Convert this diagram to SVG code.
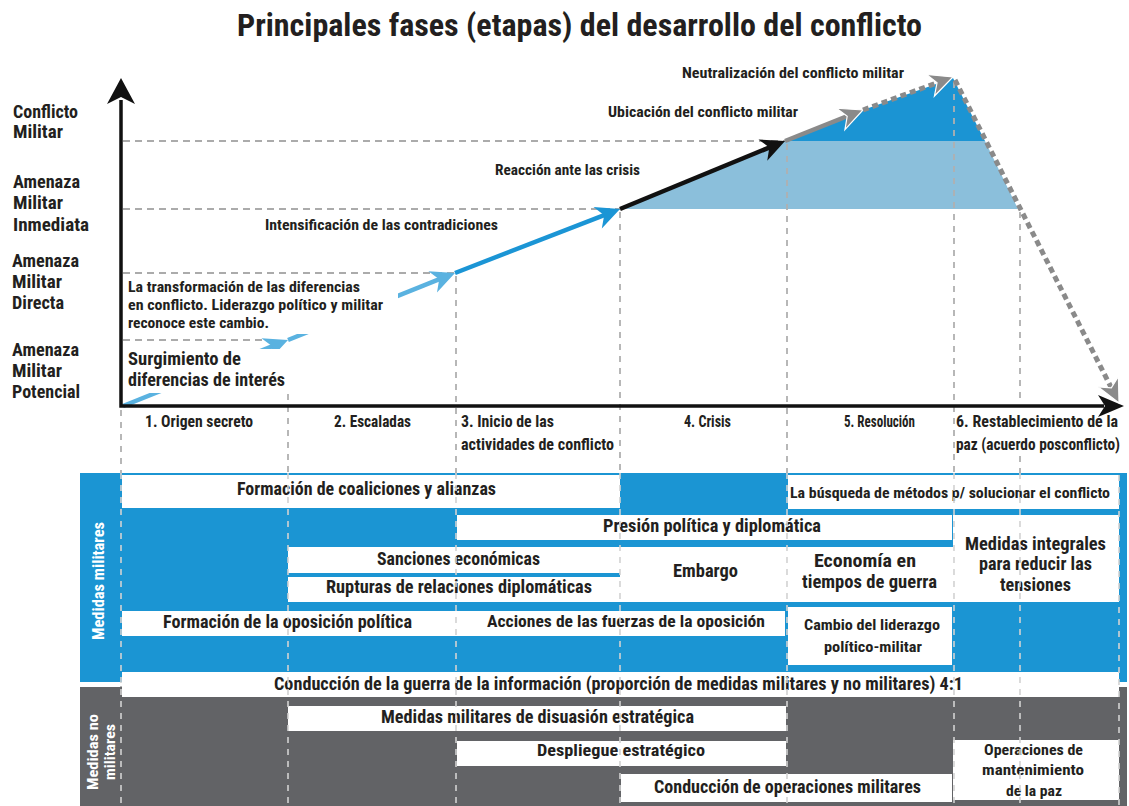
<svg xmlns="http://www.w3.org/2000/svg" width="1129" height="806" viewBox="0 0 1129 806">
<style>
.t{font-family:"Liberation Sans Narrow","Roboto Condensed","Roboto","Liberation Sans",sans-serif;font-weight:700;fill:#231f20}
.c{text-anchor:middle}
.e{text-anchor:end}
.dash{stroke:#ababab;stroke-width:1.8;stroke-dasharray:7 5;fill:none}
.vdash{stroke:#b0b0b0;stroke-width:1.8;stroke-dasharray:6 6;fill:none}
.tdash{stroke:#d2d2d2;stroke-width:1.6;stroke-dasharray:6 6;fill:none}
.box{fill:#ffffff}
.lb{stroke:#5ab2e0;stroke-width:4.5;fill:none}
.bl{stroke:#1b95d5;stroke-width:4.5;fill:none}
.bk{stroke:#111111;stroke-width:4.5;fill:none}
.gr{stroke:#8a8a8a;stroke-width:4.5;fill:none}
.gd{stroke:#8a8a8a;stroke-width:5;stroke-dasharray:6 4;fill:none}
</style>
<defs>
<marker id="ahLB" viewBox="-16 -13 28 26" refX="0" refY="0" markerWidth="28" markerHeight="26" markerUnits="userSpaceOnUse" orient="auto" overflow="visible"><path d="M10,0 L-14,-11.5 L-7,0 L-14,11.5 Z" fill="#5ab2e0"/></marker>
<marker id="ahB" viewBox="-16 -13 28 26" refX="0" refY="0" markerWidth="28" markerHeight="26" markerUnits="userSpaceOnUse" orient="auto" overflow="visible"><path d="M10,0 L-14,-11.5 L-7,0 L-14,11.5 Z" fill="#1b95d5"/></marker>
<marker id="ahK" viewBox="-16 -13 28 26" refX="0" refY="0" markerWidth="28" markerHeight="26" markerUnits="userSpaceOnUse" orient="auto" overflow="visible"><path d="M10,0 L-14,-11.5 L-7,0 L-14,11.5 Z" fill="#111111"/></marker>
<marker id="ahG" viewBox="-16 -13 28 26" refX="0" refY="0" markerWidth="28" markerHeight="26" markerUnits="userSpaceOnUse" orient="auto" overflow="visible"><path d="M10,0 L-14,-11.5 L-7,0 L-14,11.5 Z" fill="#8a8a8a" stroke="#ffffff" stroke-width="1.2"/></marker>
</defs>
<rect width="1129" height="806" fill="#ffffff"/>

<text id="title" class="t c" x="579.5" y="36" font-size="32" textLength="685" lengthAdjust="spacingAndGlyphs">Principales fases (etapas) del desarrollo del conflicto</text>

<g id="levels" class="t" font-size="17.5">
<text x="13" y="118" textLength="65" lengthAdjust="spacingAndGlyphs">Conflicto</text>
<text x="13" y="138" textLength="50" lengthAdjust="spacingAndGlyphs">Militar</text>
<text x="13" y="188" textLength="67" lengthAdjust="spacingAndGlyphs">Amenaza</text>
<text x="13" y="209" textLength="50" lengthAdjust="spacingAndGlyphs">Militar</text>
<text x="13" y="231" textLength="76" lengthAdjust="spacingAndGlyphs">Inmediata</text>
<text x="12" y="267" textLength="67" lengthAdjust="spacingAndGlyphs">Amenaza</text>
<text x="12" y="288" textLength="50" lengthAdjust="spacingAndGlyphs">Militar</text>
<text x="12" y="309" textLength="52" lengthAdjust="spacingAndGlyphs">Directa</text>
<text x="12" y="356" textLength="67" lengthAdjust="spacingAndGlyphs">Amenaza</text>
<text x="12" y="377" textLength="50" lengthAdjust="spacingAndGlyphs">Militar</text>
<text x="12" y="398" textLength="68" lengthAdjust="spacingAndGlyphs">Potencial</text>
</g>

<g id="chart-fills">
<polygon points="620,209 785,141 985,141 1018,209" fill="#8bbfdb"/>
<polygon points="785,141 863,110 953,78 985,141" fill="#1b94d3"/>
</g>

<g id="guides">
<line class="dash" x1="123" y1="141" x2="785" y2="141"/>
<line class="dash" x1="123" y1="209" x2="620" y2="209"/>
<line class="dash" x1="123" y1="273" x2="455" y2="273"/>
<line class="dash" x1="123" y1="340" x2="265" y2="340"/>
</g>

<g id="connectors">
<line class="lb" x1="123" y1="406" x2="278.7" y2="343.7" marker-end="url(#ahLB)"/>
<line class="lb" x1="288" y1="340" x2="445.7" y2="276.7" marker-end="url(#ahLB)"/>
<line class="bl" x1="455" y1="273" x2="610.7" y2="212.6" marker-end="url(#ahB)"/>
<line class="bk" x1="620" y1="209" x2="775.8" y2="144.8" marker-end="url(#ahK)"/>
<line class="gr" x1="785" y1="141" x2="853.7" y2="113.7" marker-end="url(#ahG)"/>
<line class="gd" x1="863" y1="110" x2="943.6" y2="80.4" marker-end="url(#ahG)"/>
</g>

<g id="text-backs">
<rect class="box" x="124" y="276" width="274" height="58"/>
<rect class="box" x="124" y="349" width="176" height="44"/>
</g>

<g id="chart-labels" class="t">
<text x="128" y="292" font-size="14.5" textLength="232" lengthAdjust="spacingAndGlyphs">La transformación de las diferencias</text>
<text x="128" y="310" font-size="14.5" textLength="255" lengthAdjust="spacingAndGlyphs">en conflicto. Liderazgo político y militar</text>
<text x="128" y="328" font-size="14.5" textLength="141" lengthAdjust="spacingAndGlyphs">reconoce este cambio.</text>
<text x="128" y="365" font-size="18" textLength="113" lengthAdjust="spacingAndGlyphs">Surgimiento de</text>
<text x="128" y="386" font-size="18" textLength="157" lengthAdjust="spacingAndGlyphs">diferencias de interés</text>
<text x="265" y="230" font-size="15" textLength="233" lengthAdjust="spacingAndGlyphs">Intensificación de las contradiciones</text>
<text x="495" y="175" font-size="15" textLength="145" lengthAdjust="spacingAndGlyphs">Reacción ante las crisis</text>
<text x="608" y="117" font-size="15" textLength="190" lengthAdjust="spacingAndGlyphs">Ubicación del conflicto militar</text>
<text x="682" y="78" font-size="15" textLength="222" lengthAdjust="spacingAndGlyphs">Neutralización del conflicto militar</text>
</g>

<g id="phase-guides">
<line class="vdash" x1="121" y1="410" x2="121" y2="806"/>
<line class="vdash" x1="288" y1="394" x2="288" y2="806"/>
<line class="vdash" x1="456" y1="276" x2="456" y2="806"/>
<line class="vdash" x1="620" y1="212" x2="620" y2="806"/>
<line class="vdash" x1="787" y1="144" x2="787" y2="806"/>
<line class="vdash" x1="954" y1="82" x2="954" y2="806"/>
<line class="vdash" x1="1020" y1="212" x2="1020" y2="404"/>
<line class="vdash" x1="1020" y1="456" x2="1020" y2="806"/>
</g>

<g id="table">
<rect x="80" y="473" width="1047" height="209" fill="#1b95d3"/>
<rect x="80" y="687" width="1047" height="119" fill="#626366"/>
<g id="n-coaliciones"><rect class="box" x="122" y="475" width="498" height="33"/><text class="t c" x="366.5" y="495" font-size="18" textLength="259" lengthAdjust="spacingAndGlyphs">Formación de coaliciones y alianzas</text></g>
<g id="n-busqueda"><rect class="box" x="788" y="475" width="331" height="34"/><text class="t c" x="950" y="498" font-size="15" textLength="320" lengthAdjust="spacingAndGlyphs">La búsqueda de métodos p/ solucionar el conflicto</text></g>
<g id="n-presion"><rect class="box" x="457" y="515" width="495" height="25"/><text class="t c" x="712" y="532" font-size="17.5" textLength="218" lengthAdjust="spacingAndGlyphs">Presión política y diplomática</text></g>
<g id="n-integrales"><rect class="box" x="953" y="515" width="166" height="87"/>
<text class="t c" x="1035.5" y="550" font-size="17.5" textLength="141" lengthAdjust="spacingAndGlyphs">Medidas integrales</text>
<text class="t c" x="1035.5" y="570" font-size="17.5" textLength="113" lengthAdjust="spacingAndGlyphs">para reducir las</text>
<text class="t c" x="1035.5" y="591" font-size="17.5" textLength="71" lengthAdjust="spacingAndGlyphs">tensiones</text></g>
<g id="n-sanciones"><rect class="box" x="288" y="547" width="332" height="26"/><text class="t c" x="458.5" y="565" font-size="17.5" textLength="163" lengthAdjust="spacingAndGlyphs">Sanciones económicas</text></g>
<g id="n-rupturas"><rect class="box" x="288" y="577" width="332" height="25"/><text class="t c" x="459" y="593" font-size="17.5" textLength="266" lengthAdjust="spacingAndGlyphs">Rupturas de relaciones diplomáticas</text></g>
<g id="n-embargo"><rect class="box" x="620" y="547" width="167" height="55"/><text class="t c" x="705.5" y="577" font-size="17.5" textLength="65" lengthAdjust="spacingAndGlyphs">Embargo</text></g>
<g id="n-economia"><rect class="box" x="786" y="547" width="167" height="55"/>
<text class="t c" x="865" y="567" font-size="17.5" textLength="102" lengthAdjust="spacingAndGlyphs">Economía en</text>
<text class="t c" x="869.5" y="588" font-size="17.5" textLength="135" lengthAdjust="spacingAndGlyphs">tiempos de guerra</text></g>
<g id="n-oposicion"><rect class="box" x="122" y="611" width="334" height="25"/><text class="t c" x="287.5" y="628" font-size="17.5" textLength="249" lengthAdjust="spacingAndGlyphs">Formación de la oposición política</text></g>
<g id="n-acciones"><rect class="box" x="456" y="611" width="329" height="25"/><text class="t c" x="626" y="627" font-size="17" textLength="278" lengthAdjust="spacingAndGlyphs">Acciones de las fuerzas de la oposición</text></g>
<g id="n-cambio"><rect class="box" x="788" y="607" width="164" height="58"/>
<text class="t c" x="872" y="630" font-size="15" textLength="136" lengthAdjust="spacingAndGlyphs">Cambio del liderazgo</text>
<text class="t c" x="873" y="652" font-size="15" textLength="98" lengthAdjust="spacingAndGlyphs">político-militar</text></g>
<g id="n-informacion"><rect class="box" x="122" y="672" width="997" height="25"/><text class="t c" x="618.5" y="690" font-size="17.5" textLength="689" lengthAdjust="spacingAndGlyphs">Conducción de la guerra de la información (proporción de medidas militares y no militares) 4:1</text></g>
<g id="n-disuasion"><rect class="box" x="288" y="706" width="498" height="25"/><text class="t c" x="537.5" y="723" font-size="17.5" textLength="313" lengthAdjust="spacingAndGlyphs">Medidas militares de disuasión estratégica</text></g>
<g id="n-despliegue"><rect class="box" x="457" y="741" width="329" height="25"/><text class="t c" x="621" y="756" font-size="17" textLength="168" lengthAdjust="spacingAndGlyphs">Despliegue estratégico</text></g>
<g id="n-operaciones"><rect class="box" x="621" y="774" width="331" height="28"/><text class="t c" x="787.5" y="793" font-size="17.5" textLength="267" lengthAdjust="spacingAndGlyphs">Conducción de operaciones militares</text></g>
<g id="n-paz"><rect class="box" x="953" y="740" width="166" height="60"/>
<text class="t c" x="1033.5" y="755" font-size="15" textLength="99" lengthAdjust="spacingAndGlyphs">Operaciones de</text>
<text class="t c" x="1033" y="775" font-size="15" textLength="102" lengthAdjust="spacingAndGlyphs">mantenimiento</text>
<text class="t c" x="1034" y="796" font-size="15" textLength="56" lengthAdjust="spacingAndGlyphs">de la paz</text></g>
<g id="n-medidas-militares"><text class="t c" transform="translate(104,581) rotate(-90)" x="0" y="0" font-size="16" style="fill:#ffffff" textLength="118" lengthAdjust="spacingAndGlyphs">Medidas militares</text></g>
<g id="n-medidas-no-militares">
<text class="t c" transform="translate(98,752) rotate(-90)" x="0" y="0" font-size="15" style="fill:#ffffff" textLength="76" lengthAdjust="spacingAndGlyphs">Medidas no</text>
<text class="t c" transform="translate(115,752) rotate(-90)" x="0" y="0" font-size="15" style="fill:#ffffff" textLength="56" lengthAdjust="spacingAndGlyphs">militares</text>
</g>
</g>

<g id="table-guides">
<line class="tdash" x1="121" y1="473" x2="121" y2="806"/>
<line class="tdash" x1="288" y1="473" x2="288" y2="806"/>
<line class="tdash" x1="456" y1="473" x2="456" y2="806"/>
<line class="tdash" x1="620" y1="473" x2="620" y2="806"/>
<line class="tdash" x1="787" y1="473" x2="787" y2="806"/>
<line class="tdash" x1="954" y1="473" x2="954" y2="806"/>
<line class="tdash" x1="1020" y1="473" x2="1020" y2="806"/>
<line class="tdash" x1="1119" y1="475" x2="1119" y2="806"/>
</g>

<g id="axes">
<path d="M121,100 L121,406 L1104,406" fill="none" stroke="#111111" stroke-width="3.5" stroke-linejoin="miter"/>
<polygon points="121,78 107,104 121,97 135,104" fill="#111111"/>
<polygon points="1124,406 1098,395 1105,406 1098,417" fill="#111111"/>
</g>

<g id="descent">
<line class="gd" x1="955" y1="80" x2="1114.5" y2="394.1" marker-end="url(#ahG)"/>
</g>

<g id="phases" class="t" font-size="16.5">
<text x="145" y="427" textLength="108" lengthAdjust="spacingAndGlyphs">1. Origen secreto</text>
<text x="334" y="427" textLength="77" lengthAdjust="spacingAndGlyphs">2. Escaladas</text>
<text x="461" y="427" textLength="93" lengthAdjust="spacingAndGlyphs">3. Inicio de las</text>
<text x="461" y="450" textLength="153" lengthAdjust="spacingAndGlyphs">actividades de conflicto</text>
<text x="684" y="427" textLength="47" lengthAdjust="spacingAndGlyphs">4. Crisis</text>
<text x="844" y="427" textLength="71" lengthAdjust="spacingAndGlyphs">5. Resolución</text>
<text class="e" x="1118" y="427" textLength="162" lengthAdjust="spacingAndGlyphs">6. Restablecimiento de la</text>
<text class="e" x="1120" y="450" textLength="164" lengthAdjust="spacingAndGlyphs">paz (acuerdo posconflicto)</text>
</g>
</svg>
